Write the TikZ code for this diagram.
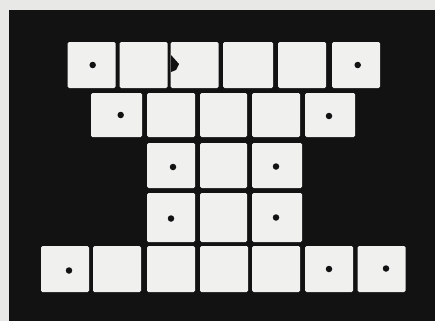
\documentclass[tikz,border=0pt]{standalone}
\begin{document}
\begin{tikzpicture}[x=1pt,y=-1pt,
  sq/.style={fill=paper,draw=none,rounded corners=1.5pt,minimum width=48pt,minimum height=46pt,inner sep=0pt,outer sep=0pt},
  dot/.style={circle,fill=ink,inner sep=0pt,minimum size=6.5pt}]
\definecolor{paper}{RGB}{240,240,238}
\definecolor{margin}{RGB}{232,232,230}
\definecolor{ink}{RGB}{18,18,18}
\useasboundingbox (0,0) rectangle (435,321);
\fill[margin] (0,0) rectangle (435,321);
\fill[ink] (9,10) rectangle (435,321);
% row 1
\node[sq] (a1) at (91.5,65) {};
\node[sq] (a2) at (143.5,65) {};
\node[sq] (a3) at (194.5,65) {};
\node[sq,minimum width=50pt] (a4) at (248,65) {};
\node[sq] (a5) at (302,65) {};
\node[sq] (a6) at (356,65) {};
% row 2
\node[sq,minimum height=44pt,minimum width=51pt] (b1) at (116.5,115) {};
\node[sq,minimum height=44pt] (b2) at (171,115) {};
\node[sq,minimum height=44pt,minimum width=47pt] (b3) at (223.5,115) {};
\node[sq,minimum height=44pt] (b4) at (276,115) {};
\node[sq,minimum height=44pt,minimum width=50pt] (b5) at (330,115) {};
% row 3
\node[sq,minimum height=45pt] (c1) at (171,165.5) {};
\node[sq,minimum height=45pt,minimum width=47pt] (c2) at (223.5,165.5) {};
\node[sq,minimum height=45pt,minimum width=50pt] (c3) at (277,165.5) {};
% row 4
\node[sq,minimum height=49pt] (d1) at (171,217.5) {};
\node[sq,minimum height=49pt,minimum width=47pt] (d2) at (223.5,217.5) {};
\node[sq,minimum height=49pt,minimum width=50pt] (d3) at (277,217.5) {};
% row 5
\node[sq] (e1) at (65,269) {};
\node[sq] (e2) at (117,269) {};
\node[sq] (e3) at (171,269) {};
\node[sq] (e4) at (224,269) {};
\node[sq] (e5) at (276,269) {};
\node[sq] (e6) at (329,269) {};
\node[sq] (e7) at (381.5,269) {};
% printing notch on a3
\fill[ink] (171,55) -- (179,64) -- (176,70) -- (171,72) -- cycle;
% dots
\node[dot] (p1) at (92.7,65) {};
\node[dot] (p2) at (357.7,65) {};
\node[dot] (p3) at (120.7,115) {};
\node[dot] (p4) at (329,116) {};
\node[dot] (p5) at (173,167) {};
\node[dot] (p6) at (276,166.5) {};
\node[dot] (p7) at (171,218.5) {};
\node[dot] (p8) at (276,217.5) {};
\node[dot] (p9) at (69,270.5) {};
\node[dot] (p10) at (329,269) {};
\node[dot] (p11) at (386,268.5) {};
\end{tikzpicture}
\end{document}
